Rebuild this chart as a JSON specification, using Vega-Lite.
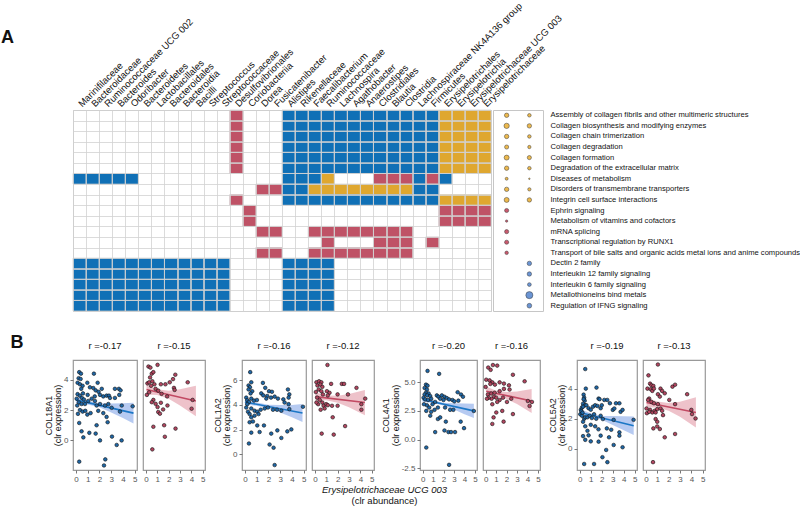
{
"$schema": "https://vega.github.io/schema/vega-lite/v6.json",
"padding": 0,
"spacing": 21,
"config": {
 "font": "Liberation Sans",
 "title": {"fontSize": 9.5, "fontWeight": "normal", "offset": 10, "frame": "group", "color": "#111"},
 "axis": {"domain": false, "grid": false, "labelFontSize": 8, "labelColor": "#555", "tickColor": "#777", "tickSize": 3, "labelPadding": 2, "titleFontSize": 9, "titleFontWeight": "normal", "titleColor": "#111", "titlePadding": 1, "titleLineHeight": 9.5},
 "concat": {"spacing": 4}
},
"datasets": {
 "taxa": [
  {"i":1,"taxon":"Marinifilaceae"},{"i":2,"taxon":"Bacteroidaceae"},{"i":3,"taxon":"Ruminococcaceae UCG 002"},{"i":4,"taxon":"Bacteroides"},{"i":5,"taxon":"Odoribacter"},{"i":6,"taxon":"Bacteroidetes"},{"i":7,"taxon":"Lactobacillales"},{"i":8,"taxon":"Bacteroidales"},{"i":9,"taxon":"Bacteroidia"},{"i":10,"taxon":"Bacilli"},{"i":11,"taxon":"Streptococcus"},{"i":12,"taxon":"Streptococcaceae"},{"i":13,"taxon":"Desulfovibrionales"},{"i":14,"taxon":"Coriobacteriia"},{"i":15,"taxon":"Dorea"},{"i":16,"taxon":"Fusicatenibacter"},{"i":17,"taxon":"Alistipes"},{"i":18,"taxon":"Rikenellaceae"},{"i":19,"taxon":"Faecalibacterium"},{"i":20,"taxon":"Ruminococcaceae"},{"i":21,"taxon":"Lachnospira"},{"i":22,"taxon":"Agathobacter"},{"i":23,"taxon":"Anaerostipes"},{"i":24,"taxon":"Clostridiales"},{"i":25,"taxon":"Blautia"},{"i":26,"taxon":"Clostridia"},{"i":27,"taxon":"Lachnospiraceae NK4A136 group"},{"i":28,"taxon":"Firmicutes"},{"i":29,"taxon":"Erysipelotrichales"},{"i":30,"taxon":"Erysipelotrichia"},{"i":31,"taxon":"Erysipelotrichaceae UCG 003"},{"i":32,"taxon":"Erysipelotrichaceae"}
 ],
 "paths": [
  {"j":1,"pathway":"Assembly of collagen fibrils and other multimeric structures"},{"j":2,"pathway":"Collagen biosynthesis and modifying enzymes"},{"j":3,"pathway":"Collagen chain trimerization"},{"j":4,"pathway":"Collagen degradation"},{"j":5,"pathway":"Collagen formation"},{"j":6,"pathway":"Degradation of the extracellular matrix"},{"j":7,"pathway":"Diseases of metabolism"},{"j":8,"pathway":"Disorders of transmembrane transporters"},{"j":9,"pathway":"Integrin cell surface interactions"},{"j":10,"pathway":"Ephrin signaling"},{"j":11,"pathway":"Metabolism of vitamins and cofactors"},{"j":12,"pathway":"mRNA splicing"},{"j":13,"pathway":"Transcriptional regulation by RUNX1"},{"j":14,"pathway":"Transport of bile salts and organic acids metal ions and anime compounds"},{"j":15,"pathway":"Dectin 2 family"},{"j":16,"pathway":"Interleukin 12 family signaling"},{"j":17,"pathway":"Interleukin 6 family signaling"},{"j":18,"pathway":"Metallothioneins bind metals"},{"j":19,"pathway":"Regulation of IFNG signaling"}
 ],
 "cells": [
  {"i":13,"j":1,"c":"R"},{"i":17,"j":1,"c":"B"},{"i":18,"j":1,"c":"B"},{"i":19,"j":1,"c":"B"},{"i":20,"j":1,"c":"B"},{"i":21,"j":1,"c":"B"},{"i":22,"j":1,"c":"B"},{"i":23,"j":1,"c":"B"},{"i":24,"j":1,"c":"B"},{"i":25,"j":1,"c":"B"},{"i":26,"j":1,"c":"B"},{"i":27,"j":1,"c":"B"},{"i":28,"j":1,"c":"B"},{"i":29,"j":1,"c":"Y"},{"i":30,"j":1,"c":"Y"},{"i":31,"j":1,"c":"Y"},{"i":32,"j":1,"c":"Y"},
  {"i":13,"j":2,"c":"R"},{"i":17,"j":2,"c":"B"},{"i":18,"j":2,"c":"B"},{"i":19,"j":2,"c":"B"},{"i":20,"j":2,"c":"B"},{"i":21,"j":2,"c":"B"},{"i":22,"j":2,"c":"B"},{"i":23,"j":2,"c":"B"},{"i":24,"j":2,"c":"B"},{"i":25,"j":2,"c":"B"},{"i":26,"j":2,"c":"B"},{"i":27,"j":2,"c":"B"},{"i":28,"j":2,"c":"B"},{"i":29,"j":2,"c":"Y"},{"i":30,"j":2,"c":"Y"},{"i":31,"j":2,"c":"Y"},{"i":32,"j":2,"c":"Y"},
  {"i":13,"j":3,"c":"R"},{"i":17,"j":3,"c":"B"},{"i":18,"j":3,"c":"B"},{"i":19,"j":3,"c":"B"},{"i":20,"j":3,"c":"B"},{"i":21,"j":3,"c":"B"},{"i":22,"j":3,"c":"B"},{"i":23,"j":3,"c":"B"},{"i":24,"j":3,"c":"B"},{"i":25,"j":3,"c":"B"},{"i":26,"j":3,"c":"B"},{"i":27,"j":3,"c":"B"},{"i":28,"j":3,"c":"B"},{"i":29,"j":3,"c":"Y"},{"i":30,"j":3,"c":"Y"},{"i":31,"j":3,"c":"Y"},{"i":32,"j":3,"c":"Y"},
  {"i":13,"j":4,"c":"R"},{"i":17,"j":4,"c":"B"},{"i":18,"j":4,"c":"B"},{"i":19,"j":4,"c":"B"},{"i":20,"j":4,"c":"B"},{"i":21,"j":4,"c":"B"},{"i":22,"j":4,"c":"B"},{"i":23,"j":4,"c":"B"},{"i":24,"j":4,"c":"B"},{"i":25,"j":4,"c":"B"},{"i":26,"j":4,"c":"B"},{"i":27,"j":4,"c":"B"},{"i":28,"j":4,"c":"B"},{"i":29,"j":4,"c":"Y"},{"i":30,"j":4,"c":"Y"},{"i":31,"j":4,"c":"Y"},{"i":32,"j":4,"c":"Y"},
  {"i":13,"j":5,"c":"R"},{"i":17,"j":5,"c":"B"},{"i":18,"j":5,"c":"B"},{"i":19,"j":5,"c":"B"},{"i":20,"j":5,"c":"B"},{"i":21,"j":5,"c":"B"},{"i":22,"j":5,"c":"B"},{"i":23,"j":5,"c":"B"},{"i":24,"j":5,"c":"B"},{"i":25,"j":5,"c":"B"},{"i":26,"j":5,"c":"B"},{"i":27,"j":5,"c":"B"},{"i":28,"j":5,"c":"B"},{"i":29,"j":5,"c":"Y"},{"i":30,"j":5,"c":"Y"},{"i":31,"j":5,"c":"Y"},{"i":32,"j":5,"c":"Y"},
  {"i":13,"j":6,"c":"R"},{"i":17,"j":6,"c":"B"},{"i":18,"j":6,"c":"B"},{"i":19,"j":6,"c":"B"},{"i":20,"j":6,"c":"B"},{"i":21,"j":6,"c":"B"},{"i":22,"j":6,"c":"B"},{"i":23,"j":6,"c":"B"},{"i":24,"j":6,"c":"B"},{"i":25,"j":6,"c":"B"},{"i":26,"j":6,"c":"B"},{"i":27,"j":6,"c":"B"},{"i":28,"j":6,"c":"B"},{"i":29,"j":6,"c":"Y"},{"i":30,"j":6,"c":"Y"},{"i":31,"j":6,"c":"Y"},{"i":32,"j":6,"c":"Y"},
  {"i":1,"j":7,"c":"B"},{"i":2,"j":7,"c":"B"},{"i":3,"j":7,"c":"B"},{"i":4,"j":7,"c":"B"},{"i":5,"j":7,"c":"B"},{"i":17,"j":7,"c":"B"},{"i":18,"j":7,"c":"B"},{"i":19,"j":7,"c":"B"},{"i":20,"j":7,"c":"Y"},{"i":24,"j":7,"c":"R"},{"i":25,"j":7,"c":"R"},{"i":26,"j":7,"c":"R"},{"i":27,"j":7,"c":"B"},{"i":28,"j":7,"c":"R"},{"i":29,"j":7,"c":"B"},
  {"i":15,"j":8,"c":"R"},{"i":16,"j":8,"c":"R"},{"i":17,"j":8,"c":"B"},{"i":18,"j":8,"c":"B"},{"i":19,"j":8,"c":"Y"},{"i":20,"j":8,"c":"Y"},{"i":21,"j":8,"c":"Y"},{"i":22,"j":8,"c":"Y"},{"i":23,"j":8,"c":"Y"},{"i":24,"j":8,"c":"Y"},{"i":25,"j":8,"c":"Y"},{"i":26,"j":8,"c":"Y"},{"i":27,"j":8,"c":"B"},{"i":28,"j":8,"c":"B"},
  {"i":13,"j":9,"c":"R"},{"i":17,"j":9,"c":"B"},{"i":18,"j":9,"c":"B"},{"i":19,"j":9,"c":"B"},{"i":20,"j":9,"c":"B"},{"i":21,"j":9,"c":"B"},{"i":22,"j":9,"c":"B"},{"i":23,"j":9,"c":"B"},{"i":24,"j":9,"c":"B"},{"i":25,"j":9,"c":"B"},{"i":26,"j":9,"c":"B"},{"i":27,"j":9,"c":"B"},{"i":28,"j":9,"c":"B"},{"i":29,"j":9,"c":"Y"},{"i":30,"j":9,"c":"Y"},{"i":31,"j":9,"c":"Y"},{"i":32,"j":9,"c":"Y"},
  {"i":14,"j":10,"c":"R"},{"i":29,"j":10,"c":"R"},{"i":30,"j":10,"c":"R"},{"i":31,"j":10,"c":"R"},{"i":32,"j":10,"c":"R"},
  {"i":14,"j":11,"c":"R"},{"i":29,"j":11,"c":"R"},{"i":30,"j":11,"c":"R"},{"i":31,"j":11,"c":"R"},{"i":32,"j":11,"c":"R"},
  {"i":15,"j":12,"c":"R"},{"i":16,"j":12,"c":"R"},{"i":19,"j":12,"c":"R"},{"i":20,"j":12,"c":"R"},{"i":21,"j":12,"c":"R"},{"i":22,"j":12,"c":"R"},{"i":23,"j":12,"c":"R"},{"i":24,"j":12,"c":"R"},{"i":25,"j":12,"c":"R"},{"i":26,"j":12,"c":"R"},
  {"i":20,"j":13,"c":"R"},{"i":24,"j":13,"c":"R"},{"i":25,"j":13,"c":"R"},{"i":26,"j":13,"c":"R"},{"i":28,"j":13,"c":"R"},
  {"i":15,"j":14,"c":"R"},{"i":16,"j":14,"c":"R"},{"i":19,"j":14,"c":"R"},{"i":20,"j":14,"c":"R"},{"i":21,"j":14,"c":"R"},{"i":22,"j":14,"c":"R"},{"i":23,"j":14,"c":"R"},{"i":24,"j":14,"c":"R"},{"i":25,"j":14,"c":"R"},{"i":26,"j":14,"c":"R"},
  {"i":1,"j":15,"c":"B"},{"i":2,"j":15,"c":"B"},{"i":3,"j":15,"c":"B"},{"i":4,"j":15,"c":"B"},{"i":5,"j":15,"c":"B"},{"i":6,"j":15,"c":"B"},{"i":7,"j":15,"c":"B"},{"i":8,"j":15,"c":"B"},{"i":9,"j":15,"c":"B"},{"i":10,"j":15,"c":"B"},{"i":11,"j":15,"c":"B"},{"i":12,"j":15,"c":"B"},{"i":17,"j":15,"c":"B"},{"i":18,"j":15,"c":"B"},{"i":19,"j":15,"c":"B"},{"i":20,"j":15,"c":"B"},
  {"i":1,"j":16,"c":"B"},{"i":2,"j":16,"c":"B"},{"i":3,"j":16,"c":"B"},{"i":4,"j":16,"c":"B"},{"i":5,"j":16,"c":"B"},{"i":6,"j":16,"c":"B"},{"i":7,"j":16,"c":"B"},{"i":8,"j":16,"c":"B"},{"i":9,"j":16,"c":"B"},{"i":10,"j":16,"c":"B"},{"i":11,"j":16,"c":"B"},{"i":12,"j":16,"c":"B"},{"i":17,"j":16,"c":"B"},{"i":18,"j":16,"c":"B"},{"i":19,"j":16,"c":"B"},{"i":20,"j":16,"c":"B"},
  {"i":1,"j":17,"c":"B"},{"i":2,"j":17,"c":"B"},{"i":3,"j":17,"c":"B"},{"i":4,"j":17,"c":"B"},{"i":5,"j":17,"c":"B"},{"i":6,"j":17,"c":"B"},{"i":7,"j":17,"c":"B"},{"i":8,"j":17,"c":"B"},{"i":9,"j":17,"c":"B"},{"i":10,"j":17,"c":"B"},{"i":11,"j":17,"c":"B"},{"i":12,"j":17,"c":"B"},{"i":17,"j":17,"c":"B"},{"i":18,"j":17,"c":"B"},{"i":19,"j":17,"c":"B"},{"i":20,"j":17,"c":"B"},
  {"i":1,"j":18,"c":"B"},{"i":2,"j":18,"c":"B"},{"i":3,"j":18,"c":"B"},{"i":4,"j":18,"c":"B"},{"i":5,"j":18,"c":"B"},{"i":6,"j":18,"c":"B"},{"i":7,"j":18,"c":"B"},{"i":8,"j":18,"c":"B"},{"i":9,"j":18,"c":"B"},{"i":10,"j":18,"c":"B"},{"i":11,"j":18,"c":"B"},{"i":12,"j":18,"c":"B"},{"i":17,"j":18,"c":"B"},{"i":18,"j":18,"c":"B"},{"i":19,"j":18,"c":"B"},{"i":20,"j":18,"c":"B"},
  {"i":1,"j":19,"c":"B"},{"i":2,"j":19,"c":"B"},{"i":3,"j":19,"c":"B"},{"i":4,"j":19,"c":"B"},{"i":5,"j":19,"c":"B"},{"i":6,"j":19,"c":"B"},{"i":7,"j":19,"c":"B"},{"i":8,"j":19,"c":"B"},{"i":9,"j":19,"c":"B"},{"i":10,"j":19,"c":"B"},{"i":11,"j":19,"c":"B"},{"i":12,"j":19,"c":"B"},{"i":17,"j":19,"c":"B"},{"i":18,"j":19,"c":"B"},{"i":19,"j":19,"c":"B"},{"i":20,"j":19,"c":"B"}
 ],
 "dots": [
  {"j":1,"k":1,"v":25,"grp":"ECM"},{"j":2,"k":1,"v":36,"grp":"ECM"},{"j":3,"k":1,"v":25,"grp":"ECM"},{"j":4,"k":1,"v":22,"grp":"ECM"},{"j":5,"k":1,"v":32,"grp":"ECM"},{"j":6,"k":1,"v":25,"grp":"ECM"},{"j":7,"k":1,"v":11,"grp":"ECM"},{"j":8,"k":1,"v":25,"grp":"ECM"},{"j":9,"k":1,"v":32,"grp":"ECM"},{"j":10,"k":1,"v":22,"grp":"other"},{"j":11,"k":1,"v":7,"grp":"other"},{"j":12,"k":1,"v":22,"grp":"other"},{"j":13,"k":1,"v":22,"grp":"other"},{"j":14,"k":1,"v":16,"grp":"other"},
  {"j":1,"k":2,"v":16,"grp":"ECM"},{"j":2,"k":2,"v":25,"grp":"ECM"},{"j":3,"k":2,"v":16,"grp":"ECM"},{"j":4,"k":2,"v":14,"grp":"ECM"},{"j":5,"k":2,"v":22,"grp":"ECM"},{"j":6,"k":2,"v":16,"grp":"ECM"},{"j":7,"k":2,"v":3,"grp":"ECM"},{"j":8,"k":2,"v":14,"grp":"ECM"},{"j":9,"k":2,"v":25,"grp":"ECM"},{"j":15,"k":2,"v":25,"grp":"immune"},{"j":16,"k":2,"v":25,"grp":"immune"},{"j":17,"k":2,"v":18,"grp":"immune"},{"j":18,"k":2,"v":64,"grp":"immune"},{"j":19,"k":2,"v":28,"grp":"immune"}
 ],
 "fits": [
  {"g":"COL18A1","s":"b","x":0,"y":2.67},{"g":"COL18A1","s":"b","x":4.9,"y":1.8},{"g":"COL18A1","s":"r","x":0.06,"y":3.35},{"g":"COL18A1","s":"r","x":4.4,"y":2.6},
  {"g":"COL1A2","s":"b","x":0,"y":4.23},{"g":"COL1A2","s":"b","x":4.9,"y":3.33},{"g":"COL1A2","s":"r","x":0.06,"y":4.66},{"g":"COL1A2","s":"r","x":4.4,"y":4.18},
  {"g":"COL4A1","s":"b","x":0,"y":3.51},{"g":"COL4A1","s":"b","x":4.9,"y":2.51},{"g":"COL4A1","s":"r","x":0.06,"y":4.23},{"g":"COL4A1","s":"r","x":4.4,"y":3.37},
  {"g":"COL5A2","s":"b","x":0,"y":2.42},{"g":"COL5A2","s":"b","x":4.9,"y":1.54},{"g":"COL5A2","s":"r","x":0.06,"y":3.08},{"g":"COL5A2","s":"r","x":4.4,"y":2.42}
 ],
 "bands": [
  {"g":"COL18A1","s":"b","x":0,"y":2.45,"y2":2.89},{"g":"COL18A1","s":"b","x":1,"y":2.36,"y2":2.62},{"g":"COL18A1","s":"b","x":2,"y":2.18,"y2":2.45},{"g":"COL18A1","s":"b","x":3,"y":1.84,"y2":2.44},{"g":"COL18A1","s":"b","x":4,"y":1.47,"y2":2.45},{"g":"COL18A1","s":"b","x":4.9,"y":1.12,"y2":2.48},
  {"g":"COL18A1","s":"r","x":0.06,"y":3.02,"y2":3.68},{"g":"COL18A1","s":"r","x":1,"y":3.0,"y2":3.38},{"g":"COL18A1","s":"r","x":2,"y":2.74,"y2":3.28},{"g":"COL18A1","s":"r","x":3,"y":2.3,"y2":3.38},{"g":"COL18A1","s":"r","x":4.4,"y":1.6,"y2":3.6},
  {"g":"COL1A2","s":"b","x":0,"y":4.02,"y2":4.44},{"g":"COL1A2","s":"b","x":1,"y":3.92,"y2":4.18},{"g":"COL1A2","s":"b","x":2,"y":3.72,"y2":4.0},{"g":"COL1A2","s":"b","x":3,"y":3.38,"y2":3.98},{"g":"COL1A2","s":"b","x":4,"y":3.0,"y2":3.98},{"g":"COL1A2","s":"b","x":4.9,"y":2.6,"y2":4.06},
  {"g":"COL1A2","s":"r","x":0.06,"y":4.3,"y2":5.02},{"g":"COL1A2","s":"r","x":1,"y":4.36,"y2":4.76},{"g":"COL1A2","s":"r","x":2,"y":4.17,"y2":4.73},{"g":"COL1A2","s":"r","x":3,"y":3.8,"y2":4.88},{"g":"COL1A2","s":"r","x":4.4,"y":3.16,"y2":5.2},
  {"g":"COL4A1","s":"b","x":0,"y":3.3,"y2":3.72},{"g":"COL4A1","s":"b","x":1,"y":3.19,"y2":3.43},{"g":"COL4A1","s":"b","x":2,"y":2.97,"y2":3.23},{"g":"COL4A1","s":"b","x":3,"y":2.62,"y2":3.18},{"g":"COL4A1","s":"b","x":4,"y":2.22,"y2":3.16},{"g":"COL4A1","s":"b","x":4.9,"y":1.88,"y2":3.14},
  {"g":"COL4A1","s":"r","x":0.06,"y":3.82,"y2":4.64},{"g":"COL4A1","s":"r","x":1,"y":3.82,"y2":4.26},{"g":"COL4A1","s":"r","x":2,"y":3.55,"y2":4.15},{"g":"COL4A1","s":"r","x":3,"y":3.1,"y2":4.2},{"g":"COL4A1","s":"r","x":4.4,"y":2.32,"y2":4.42},
  {"g":"COL5A2","s":"b","x":0,"y":2.2,"y2":2.64},{"g":"COL5A2","s":"b","x":1,"y":2.12,"y2":2.36},{"g":"COL5A2","s":"b","x":2,"y":1.93,"y2":2.19},{"g":"COL5A2","s":"b","x":3,"y":1.58,"y2":2.18},{"g":"COL5A2","s":"b","x":4,"y":1.24,"y2":2.16},{"g":"COL5A2","s":"b","x":4.9,"y":0.93,"y2":2.15},
  {"g":"COL5A2","s":"r","x":0.06,"y":2.75,"y2":3.41},{"g":"COL5A2","s":"r","x":1,"y":2.74,"y2":3.14},{"g":"COL5A2","s":"r","x":2,"y":2.54,"y2":3.04},{"g":"COL5A2","s":"r","x":3,"y":2.13,"y2":3.13},{"g":"COL5A2","s":"r","x":4.4,"y":1.42,"y2":3.42}
 ],
 "pts": [
  {"g":"COL18A1","s":"b","x":0.28,"y":4.5},{"g":"COL18A1","s":"b","x":0.43,"y":4.4},{"g":"COL18A1","s":"b","x":0.23,"y":4.1},{"g":"COL18A1","s":"b","x":0.4,"y":4.05},{"g":"COL18A1","s":"b","x":0.14,"y":3.8},{"g":"COL18A1","s":"b","x":0.34,"y":3.7},{"g":"COL18A1","s":"b","x":0.57,"y":3.6},{"g":"COL18A1","s":"b","x":0.45,"y":3.4},{"g":"COL18A1","s":"b","x":1.53,"y":4.4},{"g":"COL18A1","s":"b","x":0.97,"y":3.8},{"g":"COL18A1","s":"b","x":1.85,"y":3.8},{"g":"COL18A1","s":"b","x":1.19,"y":3.5},{"g":"COL18A1","s":"b","x":1.48,"y":3.45},{"g":"COL18A1","s":"b","x":1.68,"y":3.3},{"g":"COL18A1","s":"b","x":1.93,"y":3.2},{"g":"COL18A1","s":"b","x":2.05,"y":3.0},{"g":"COL18A1","s":"b","x":2.33,"y":2.9},{"g":"COL18A1","s":"b","x":2.61,"y":2.95},{"g":"COL18A1","s":"b","x":2.81,"y":2.95},{"g":"COL18A1","s":"b","x":3.32,"y":3.4},{"g":"COL18A1","s":"b","x":3.66,"y":3.4},{"g":"COL18A1","s":"b","x":3.8,"y":3.3},{"g":"COL18A1","s":"b","x":3.69,"y":3.0},{"g":"COL18A1","s":"b","x":3.32,"y":2.8},{"g":"COL18A1","s":"b","x":2.9,"y":2.8},{"g":"COL18A1","s":"b","x":0.14,"y":3.05},{"g":"COL18A1","s":"b","x":0.34,"y":2.95},{"g":"COL18A1","s":"b","x":0.51,"y":2.8},{"g":"COL18A1","s":"b","x":0.68,"y":2.7},{"g":"COL18A1","s":"b","x":0.06,"y":2.75},{"g":"COL18A1","s":"b","x":0.26,"y":2.5},{"g":"COL18A1","s":"b","x":0.11,"y":2.3},{"g":"COL18A1","s":"b","x":0.48,"y":2.4},{"g":"COL18A1","s":"b","x":0.77,"y":2.4},{"g":"COL18A1","s":"b","x":1.05,"y":2.6},{"g":"COL18A1","s":"b","x":1.34,"y":2.75},{"g":"COL18A1","s":"b","x":1.62,"y":2.6},{"g":"COL18A1","s":"b","x":1.76,"y":2.3},{"g":"COL18A1","s":"b","x":2.05,"y":2.4},{"g":"COL18A1","s":"b","x":2.47,"y":2.3},{"g":"COL18A1","s":"b","x":2.76,"y":2.4},{"g":"COL18A1","s":"b","x":3.75,"y":1.9},{"g":"COL18A1","s":"b","x":4.83,"y":2.25},{"g":"COL18A1","s":"b","x":3.04,"y":2.15},{"g":"COL18A1","s":"b","x":0.34,"y":2.0},{"g":"COL18A1","s":"b","x":0.57,"y":1.9},{"g":"COL18A1","s":"b","x":0.8,"y":1.95},{"g":"COL18A1","s":"b","x":0.97,"y":1.7},{"g":"COL18A1","s":"b","x":0.17,"y":1.75},{"g":"COL18A1","s":"b","x":1.25,"y":1.8},{"g":"COL18A1","s":"b","x":1.9,"y":1.95},{"g":"COL18A1","s":"b","x":2.33,"y":1.8},{"g":"COL18A1","s":"b","x":2.61,"y":1.55},{"g":"COL18A1","s":"b","x":1.76,"y":1.0},{"g":"COL18A1","s":"b","x":0.28,"y":1.15},{"g":"COL18A1","s":"b","x":0.48,"y":0.6},{"g":"COL18A1","s":"b","x":0.63,"y":0.2},{"g":"COL18A1","s":"b","x":1.14,"y":0.5},{"g":"COL18A1","s":"b","x":1.68,"y":0.45},{"g":"COL18A1","s":"b","x":2.05,"y":0.0},{"g":"COL18A1","s":"b","x":2.7,"y":1.2},{"g":"COL18A1","s":"b","x":3.07,"y":0.25},{"g":"COL18A1","s":"b","x":3.47,"y":-0.3},{"g":"COL18A1","s":"b","x":3.89,"y":0.0},{"g":"COL18A1","s":"b","x":0.28,"y":-1.4},{"g":"COL18A1","s":"b","x":2.5,"y":-1.25},{"g":"COL18A1","s":"b","x":2.39,"y":-1.65},{"g":"COL18A1","s":"b","x":3.9,"y":2.3},{"g":"COL18A1","s":"b","x":1.0,"y":3.0},{"g":"COL18A1","s":"b","x":0.6,"y":3.1},{"g":"COL18A1","s":"b","x":1.6,"y":2.9},{"g":"COL18A1","s":"b","x":2.2,"y":3.4},
  {"g":"COL18A1","s":"r","x":0.23,"y":4.87},{"g":"COL18A1","s":"r","x":0.4,"y":4.8},{"g":"COL18A1","s":"r","x":1.03,"y":4.98},{"g":"COL18A1","s":"r","x":0.52,"y":4.4},{"g":"COL18A1","s":"r","x":0.66,"y":4.5},{"g":"COL18A1","s":"r","x":0.37,"y":4.15},{"g":"COL18A1","s":"r","x":0.14,"y":3.76},{"g":"COL18A1","s":"r","x":0.29,"y":3.83},{"g":"COL18A1","s":"r","x":0.57,"y":3.9},{"g":"COL18A1","s":"r","x":0.75,"y":3.7},{"g":"COL18A1","s":"r","x":0.46,"y":3.6},{"g":"COL18A1","s":"r","x":0.09,"y":3.0},{"g":"COL18A1","s":"r","x":0.29,"y":3.17},{"g":"COL18A1","s":"r","x":0.86,"y":3.4},{"g":"COL18A1","s":"r","x":1.32,"y":3.7},{"g":"COL18A1","s":"r","x":1.72,"y":3.7},{"g":"COL18A1","s":"r","x":2.1,"y":3.83},{"g":"COL18A1","s":"r","x":2.39,"y":4.04},{"g":"COL18A1","s":"r","x":2.59,"y":4.33},{"g":"COL18A1","s":"r","x":2.47,"y":3.46},{"g":"COL18A1","s":"r","x":2.53,"y":3.33},{"g":"COL18A1","s":"r","x":3.68,"y":3.83},{"g":"COL18A1","s":"r","x":1.09,"y":3.28},{"g":"COL18A1","s":"r","x":1.38,"y":3.07},{"g":"COL18A1","s":"r","x":1.87,"y":2.9},{"g":"COL18A1","s":"r","x":0.66,"y":2.67},{"g":"COL18A1","s":"r","x":0.52,"y":2.52},{"g":"COL18A1","s":"r","x":0.86,"y":2.41},{"g":"COL18A1","s":"r","x":1.32,"y":2.48},{"g":"COL18A1","s":"r","x":1.03,"y":2.2},{"g":"COL18A1","s":"r","x":1.09,"y":1.87},{"g":"COL18A1","s":"r","x":1.24,"y":1.76},{"g":"COL18A1","s":"r","x":1.52,"y":2.04},{"g":"COL18A1","s":"r","x":1.9,"y":2.3},{"g":"COL18A1","s":"r","x":4.02,"y":2.09},{"g":"COL18A1","s":"r","x":4.11,"y":2.67},{"g":"COL18A1","s":"r","x":0.66,"y":0.9},{"g":"COL18A1","s":"r","x":1.61,"y":1.0},{"g":"COL18A1","s":"r","x":1.67,"y":0.24},{"g":"COL18A1","s":"r","x":2.61,"y":0.78},{"g":"COL18A1","s":"r","x":0.57,"y":-0.59},
  {"g":"COL1A2","s":"b","x":0.45,"y":6.64},{"g":"COL1A2","s":"b","x":0.54,"y":5.82},{"g":"COL1A2","s":"b","x":0.31,"y":5.56},{"g":"COL1A2","s":"b","x":0.43,"y":5.42},{"g":"COL1A2","s":"b","x":0.31,"y":5.24},{"g":"COL1A2","s":"b","x":0.62,"y":5.1},{"g":"COL1A2","s":"b","x":0.48,"y":4.92},{"g":"COL1A2","s":"b","x":1.53,"y":5.77},{"g":"COL1A2","s":"b","x":1.73,"y":5.37},{"g":"COL1A2","s":"b","x":2.05,"y":5.1},{"g":"COL1A2","s":"b","x":2.3,"y":5.05},{"g":"COL1A2","s":"b","x":1.39,"y":4.92},{"g":"COL1A2","s":"b","x":1.56,"y":4.76},{"g":"COL1A2","s":"b","x":1.9,"y":4.71},{"g":"COL1A2","s":"b","x":1.82,"y":4.5},{"g":"COL1A2","s":"b","x":2.22,"y":4.58},{"g":"COL1A2","s":"b","x":2.53,"y":4.66},{"g":"COL1A2","s":"b","x":2.81,"y":4.5},{"g":"COL1A2","s":"b","x":3.27,"y":4.44},{"g":"COL1A2","s":"b","x":3.66,"y":5.24},{"g":"COL1A2","s":"b","x":3.78,"y":4.84},{"g":"COL1A2","s":"b","x":3.72,"y":4.58},{"g":"COL1A2","s":"b","x":3.38,"y":4.18},{"g":"COL1A2","s":"b","x":3.72,"y":4.05},{"g":"COL1A2","s":"b","x":3.78,"y":3.65},{"g":"COL1A2","s":"b","x":4.94,"y":3.84},{"g":"COL1A2","s":"b","x":0.11,"y":4.58},{"g":"COL1A2","s":"b","x":0.2,"y":4.37},{"g":"COL1A2","s":"b","x":0.34,"y":4.23},{"g":"COL1A2","s":"b","x":0.54,"y":4.5},{"g":"COL1A2","s":"b","x":0.77,"y":4.34},{"g":"COL1A2","s":"b","x":1.02,"y":4.39},{"g":"COL1A2","s":"b","x":0.2,"y":4.05},{"g":"COL1A2","s":"b","x":0.11,"y":3.78},{"g":"COL1A2","s":"b","x":0.54,"y":3.7},{"g":"COL1A2","s":"b","x":0.82,"y":3.52},{"g":"COL1A2","s":"b","x":0.26,"y":3.44},{"g":"COL1A2","s":"b","x":0.4,"y":3.25},{"g":"COL1A2","s":"b","x":1.05,"y":3.44},{"g":"COL1A2","s":"b","x":1.34,"y":3.6},{"g":"COL1A2","s":"b","x":1.16,"y":3.25},{"g":"COL1A2","s":"b","x":1.68,"y":3.7},{"g":"COL1A2","s":"b","x":1.96,"y":3.78},{"g":"COL1A2","s":"b","x":2.39,"y":3.6},{"g":"COL1A2","s":"b","x":2.73,"y":3.6},{"g":"COL1A2","s":"b","x":3.1,"y":3.52},{"g":"COL1A2","s":"b","x":0.82,"y":3.12},{"g":"COL1A2","s":"b","x":0.54,"y":2.99},{"g":"COL1A2","s":"b","x":0.4,"y":2.59},{"g":"COL1A2","s":"b","x":0.68,"y":2.65},{"g":"COL1A2","s":"b","x":1.05,"y":2.33},{"g":"COL1A2","s":"b","x":0.54,"y":1.75},{"g":"COL1A2","s":"b","x":1.25,"y":1.8},{"g":"COL1A2","s":"b","x":1.62,"y":2.33},{"g":"COL1A2","s":"b","x":2.24,"y":1.67},{"g":"COL1A2","s":"b","x":2.76,"y":1.93},{"g":"COL1A2","s":"b","x":3.1,"y":1.32},{"g":"COL1A2","s":"b","x":3.61,"y":1.85},{"g":"COL1A2","s":"b","x":3.95,"y":2.01},{"g":"COL1A2","s":"b","x":0.34,"y":0.87},{"g":"COL1A2","s":"b","x":2.1,"y":0.79},{"g":"COL1A2","s":"b","x":2.44,"y":0.53},{"g":"COL1A2","s":"b","x":2.53,"y":-0.87},
  {"g":"COL1A2","s":"r","x":1.11,"y":7.22},{"g":"COL1A2","s":"r","x":0.14,"y":5.82},{"g":"COL1A2","s":"r","x":0.37,"y":5.9},{"g":"COL1A2","s":"r","x":0.57,"y":5.82},{"g":"COL1A2","s":"r","x":0.23,"y":5.56},{"g":"COL1A2","s":"r","x":0.49,"y":5.63},{"g":"COL1A2","s":"r","x":0.66,"y":5.45},{"g":"COL1A2","s":"r","x":1.43,"y":5.69},{"g":"COL1A2","s":"r","x":2.37,"y":5.69},{"g":"COL1A2","s":"r","x":2.57,"y":5.69},{"g":"COL1A2","s":"r","x":3.66,"y":5.37},{"g":"COL1A2","s":"r","x":0.34,"y":5.24},{"g":"COL1A2","s":"r","x":0.57,"y":5.1},{"g":"COL1A2","s":"r","x":1.06,"y":5.1},{"g":"COL1A2","s":"r","x":1.29,"y":4.97},{"g":"COL1A2","s":"r","x":1.14,"y":4.76},{"g":"COL1A2","s":"r","x":0.71,"y":4.84},{"g":"COL1A2","s":"r","x":0.09,"y":5.03},{"g":"COL1A2","s":"r","x":0.2,"y":4.58},{"g":"COL1A2","s":"r","x":2.0,"y":4.84},{"g":"COL1A2","s":"r","x":2.91,"y":4.84},{"g":"COL1A2","s":"r","x":0.43,"y":4.39},{"g":"COL1A2","s":"r","x":0.66,"y":4.18},{"g":"COL1A2","s":"r","x":0.77,"y":3.92},{"g":"COL1A2","s":"r","x":1.0,"y":4.05},{"g":"COL1A2","s":"r","x":0.86,"y":3.7},{"g":"COL1A2","s":"r","x":1.14,"y":3.97},{"g":"COL1A2","s":"r","x":1.51,"y":3.92},{"g":"COL1A2","s":"r","x":2.0,"y":3.92},{"g":"COL1A2","s":"r","x":0.29,"y":4.05},{"g":"COL1A2","s":"r","x":0.14,"y":4.18},{"g":"COL1A2","s":"r","x":0.51,"y":3.6},{"g":"COL1A2","s":"r","x":1.57,"y":2.99},{"g":"COL1A2","s":"r","x":4.09,"y":4.05},{"g":"COL1A2","s":"r","x":4.09,"y":3.6},{"g":"COL1A2","s":"r","x":4.43,"y":4.5},{"g":"COL1A2","s":"r","x":0.6,"y":1.67},{"g":"COL1A2","s":"r","x":1.66,"y":1.59},{"g":"COL1A2","s":"r","x":2.66,"y":2.28},
  {"g":"COL4A1","s":"b","x":0.47,"y":6.0},{"g":"COL4A1","s":"b","x":1.58,"y":5.74},{"g":"COL4A1","s":"b","x":0.32,"y":4.8},{"g":"COL4A1","s":"b","x":0.47,"y":4.71},{"g":"COL4A1","s":"b","x":0.19,"y":4.51},{"g":"COL4A1","s":"b","x":0.41,"y":4.37},{"g":"COL4A1","s":"b","x":0.32,"y":4.09},{"g":"COL4A1","s":"b","x":0.57,"y":4.03},{"g":"COL4A1","s":"b","x":0.19,"y":3.94},{"g":"COL4A1","s":"b","x":0.44,"y":3.86},{"g":"COL4A1","s":"b","x":0.73,"y":3.8},{"g":"COL4A1","s":"b","x":0.09,"y":3.66},{"g":"COL4A1","s":"b","x":0.25,"y":3.51},{"g":"COL4A1","s":"b","x":0.51,"y":3.46},{"g":"COL4A1","s":"b","x":0.82,"y":3.57},{"g":"COL4A1","s":"b","x":1.36,"y":3.86},{"g":"COL4A1","s":"b","x":1.52,"y":3.74},{"g":"COL4A1","s":"b","x":1.84,"y":3.86},{"g":"COL4A1","s":"b","x":2.09,"y":3.74},{"g":"COL4A1","s":"b","x":2.31,"y":3.63},{"g":"COL4A1","s":"b","x":1.68,"y":3.57},{"g":"COL4A1","s":"b","x":2.0,"y":3.46},{"g":"COL4A1","s":"b","x":2.53,"y":3.51},{"g":"COL4A1","s":"b","x":2.85,"y":3.46},{"g":"COL4A1","s":"b","x":3.35,"y":4.14},{"g":"COL4A1","s":"b","x":3.67,"y":3.94},{"g":"COL4A1","s":"b","x":3.86,"y":3.74},{"g":"COL4A1","s":"b","x":3.04,"y":3.34},{"g":"COL4A1","s":"b","x":3.42,"y":3.4},{"g":"COL4A1","s":"b","x":1.2,"y":3.29},{"g":"COL4A1","s":"b","x":0.95,"y":3.09},{"g":"COL4A1","s":"b","x":0.41,"y":3.0},{"g":"COL4A1","s":"b","x":0.13,"y":3.09},{"g":"COL4A1","s":"b","x":0.63,"y":2.8},{"g":"COL4A1","s":"b","x":0.35,"y":2.51},{"g":"COL4A1","s":"b","x":0.82,"y":2.43},{"g":"COL4A1","s":"b","x":1.14,"y":2.6},{"g":"COL4A1","s":"b","x":1.46,"y":2.8},{"g":"COL4A1","s":"b","x":2.15,"y":2.8},{"g":"COL4A1","s":"b","x":2.63,"y":2.6},{"g":"COL4A1","s":"b","x":2.94,"y":2.6},{"g":"COL4A1","s":"b","x":0.73,"y":2.09},{"g":"COL4A1","s":"b","x":1.46,"y":1.8},{"g":"COL4A1","s":"b","x":1.68,"y":1.94},{"g":"COL4A1","s":"b","x":2.22,"y":1.57},{"g":"COL4A1","s":"b","x":3.64,"y":1.57},{"g":"COL4A1","s":"b","x":1.2,"y":0.66},{"g":"COL4A1","s":"b","x":2.09,"y":0.8},{"g":"COL4A1","s":"b","x":2.47,"y":0.66},{"g":"COL4A1","s":"b","x":2.72,"y":0.66},{"g":"COL4A1","s":"b","x":3.1,"y":0.66},{"g":"COL4A1","s":"b","x":3.96,"y":1.0},{"g":"COL4A1","s":"b","x":0.35,"y":-0.69},{"g":"COL4A1","s":"b","x":2.53,"y":-2.2},{"g":"COL4A1","s":"b","x":4.9,"y":2.5},
  {"g":"COL4A1","s":"r","x":0.25,"y":6.29},{"g":"COL4A1","s":"r","x":0.7,"y":6.51},{"g":"COL4A1","s":"r","x":1.11,"y":6.46},{"g":"COL4A1","s":"r","x":0.48,"y":6.09},{"g":"COL4A1","s":"r","x":0.06,"y":5.23},{"g":"COL4A1","s":"r","x":0.38,"y":5.17},{"g":"COL4A1","s":"r","x":0.64,"y":5.0},{"g":"COL4A1","s":"r","x":0.45,"y":4.86},{"g":"COL4A1","s":"r","x":0.89,"y":4.8},{"g":"COL4A1","s":"r","x":0.0,"y":4.6},{"g":"COL4A1","s":"r","x":1.34,"y":5.0},{"g":"COL4A1","s":"r","x":1.75,"y":4.89},{"g":"COL4A1","s":"r","x":2.23,"y":4.74},{"g":"COL4A1","s":"r","x":2.61,"y":5.66},{"g":"COL4A1","s":"r","x":3.73,"y":5.09},{"g":"COL4A1","s":"r","x":1.75,"y":4.43},{"g":"COL4A1","s":"r","x":2.29,"y":4.37},{"g":"COL4A1","s":"r","x":1.34,"y":4.23},{"g":"COL4A1","s":"r","x":0.22,"y":3.94},{"g":"COL4A1","s":"r","x":0.54,"y":4.03},{"g":"COL4A1","s":"r","x":0.86,"y":4.09},{"g":"COL4A1","s":"r","x":0.8,"y":3.74},{"g":"COL4A1","s":"r","x":1.02,"y":3.66},{"g":"COL4A1","s":"r","x":0.57,"y":3.57},{"g":"COL4A1","s":"r","x":0.29,"y":3.66},{"g":"COL4A1","s":"r","x":0.13,"y":3.57},{"g":"COL4A1","s":"r","x":1.34,"y":3.46},{"g":"COL4A1","s":"r","x":1.66,"y":3.66},{"g":"COL4A1","s":"r","x":2.04,"y":3.29},{"g":"COL4A1","s":"r","x":2.45,"y":3.57},{"g":"COL4A1","s":"r","x":0.64,"y":3.09},{"g":"COL4A1","s":"r","x":1.11,"y":3.29},{"g":"COL4A1","s":"r","x":4.04,"y":3.37},{"g":"COL4A1","s":"r","x":4.2,"y":2.94},{"g":"COL4A1","s":"r","x":4.43,"y":3.29},{"g":"COL4A1","s":"r","x":1.02,"y":2.37},{"g":"COL4A1","s":"r","x":1.59,"y":2.51},{"g":"COL4A1","s":"r","x":0.76,"y":1.94},{"g":"COL4A1","s":"r","x":2.61,"y":2.23},{"g":"COL4A1","s":"r","x":1.72,"y":1.57},{"g":"COL4A1","s":"r","x":0.64,"y":1.37},
  {"g":"COL5A2","s":"b","x":0.5,"y":5.3},{"g":"COL5A2","s":"b","x":0.35,"y":3.6},{"g":"COL5A2","s":"b","x":0.4,"y":3.4},{"g":"COL5A2","s":"b","x":0.45,"y":3.2},{"g":"COL5A2","s":"b","x":0.3,"y":3.0},{"g":"COL5A2","s":"b","x":0.55,"y":4.0},{"g":"COL5A2","s":"b","x":0.5,"y":2.9},{"g":"COL5A2","s":"b","x":1.52,"y":4.07},{"g":"COL5A2","s":"b","x":1.71,"y":3.34},{"g":"COL5A2","s":"b","x":1.8,"y":3.3},{"g":"COL5A2","s":"b","x":2.23,"y":3.25},{"g":"COL5A2","s":"b","x":2.5,"y":3.25},{"g":"COL5A2","s":"b","x":2.74,"y":3.03},{"g":"COL5A2","s":"b","x":3.0,"y":2.59},{"g":"COL5A2","s":"b","x":3.29,"y":3.03},{"g":"COL5A2","s":"b","x":3.6,"y":3.03},{"g":"COL5A2","s":"b","x":3.71,"y":2.46},{"g":"COL5A2","s":"b","x":3.89,"y":2.59},{"g":"COL5A2","s":"b","x":3.14,"y":2.68},{"g":"COL5A2","s":"b","x":4.89,"y":1.93},{"g":"COL5A2","s":"b","x":0.1,"y":2.6},{"g":"COL5A2","s":"b","x":0.2,"y":2.75},{"g":"COL5A2","s":"b","x":0.3,"y":2.8},{"g":"COL5A2","s":"b","x":0.6,"y":2.9},{"g":"COL5A2","s":"b","x":0.8,"y":2.7},{"g":"COL5A2","s":"b","x":1.0,"y":2.6},{"g":"COL5A2","s":"b","x":1.2,"y":2.8},{"g":"COL5A2","s":"b","x":1.4,"y":2.9},{"g":"COL5A2","s":"b","x":1.6,"y":2.85},{"g":"COL5A2","s":"b","x":1.9,"y":2.7},{"g":"COL5A2","s":"b","x":2.0,"y":2.9},{"g":"COL5A2","s":"b","x":0.05,"y":2.3},{"g":"COL5A2","s":"b","x":0.2,"y":2.2},{"g":"COL5A2","s":"b","x":0.4,"y":2.0},{"g":"COL5A2","s":"b","x":0.5,"y":2.1},{"g":"COL5A2","s":"b","x":0.7,"y":2.1},{"g":"COL5A2","s":"b","x":0.9,"y":2.2},{"g":"COL5A2","s":"b","x":1.1,"y":2.05},{"g":"COL5A2","s":"b","x":1.3,"y":2.3},{"g":"COL5A2","s":"b","x":1.5,"y":2.0},{"g":"COL5A2","s":"b","x":1.9,"y":2.2},{"g":"COL5A2","s":"b","x":2.1,"y":1.98},{"g":"COL5A2","s":"b","x":3.08,"y":1.93},{"g":"COL5A2","s":"b","x":2.46,"y":1.36},{"g":"COL5A2","s":"b","x":2.86,"y":1.27},{"g":"COL5A2","s":"b","x":3.6,"y":1.1},{"g":"COL5A2","s":"b","x":0.3,"y":1.8},{"g":"COL5A2","s":"b","x":0.5,"y":1.5},{"g":"COL5A2","s":"b","x":0.7,"y":1.2},{"g":"COL5A2","s":"b","x":1.0,"y":1.6},{"g":"COL5A2","s":"b","x":1.4,"y":1.5},{"g":"COL5A2","s":"b","x":1.7,"y":1.3},{"g":"COL5A2","s":"b","x":1.9,"y":0.88},{"g":"COL5A2","s":"b","x":2.66,"y":0.77},{"g":"COL5A2","s":"b","x":1.71,"y":0.48},{"g":"COL5A2","s":"b","x":3.6,"y":0.88},{"g":"COL5A2","s":"b","x":3.08,"y":0.26},{"g":"COL5A2","s":"b","x":3.89,"y":0.11},{"g":"COL5A2","s":"b","x":2.4,"y":-0.07},{"g":"COL5A2","s":"b","x":2.06,"y":-0.55},{"g":"COL5A2","s":"b","x":2.51,"y":-0.88},{"g":"COL5A2","s":"b","x":0.3,"y":0.85},{"g":"COL5A2","s":"b","x":0.5,"y":0.6},{"g":"COL5A2","s":"b","x":0.8,"y":0.9},{"g":"COL5A2","s":"b","x":1.0,"y":0.5},{"g":"COL5A2","s":"b","x":0.4,"y":-1.0},{"g":"COL5A2","s":"b","x":1.3,"y":-1.0},{"g":"COL5A2","s":"b","x":0.15,"y":2.5},{"g":"COL5A2","s":"b","x":0.25,"y":2.4},{"g":"COL5A2","s":"b","x":0.35,"y":3.3},
  {"g":"COL5A2","s":"r","x":1.06,"y":5.6},{"g":"COL5A2","s":"r","x":0.23,"y":4.88},{"g":"COL5A2","s":"r","x":0.37,"y":4.33},{"g":"COL5A2","s":"r","x":0.49,"y":4.22},{"g":"COL5A2","s":"r","x":0.66,"y":4.18},{"g":"COL5A2","s":"r","x":0.14,"y":4.0},{"g":"COL5A2","s":"r","x":0.43,"y":3.96},{"g":"COL5A2","s":"r","x":0.57,"y":3.85},{"g":"COL5A2","s":"r","x":0.71,"y":4.0},{"g":"COL5A2","s":"r","x":1.29,"y":4.0},{"g":"COL5A2","s":"r","x":1.43,"y":3.85},{"g":"COL5A2","s":"r","x":1.66,"y":3.69},{"g":"COL5A2","s":"r","x":1.06,"y":3.63},{"g":"COL5A2","s":"r","x":1.23,"y":3.47},{"g":"COL5A2","s":"r","x":2.34,"y":4.13},{"g":"COL5A2","s":"r","x":2.57,"y":4.26},{"g":"COL5A2","s":"r","x":3.63,"y":3.63},{"g":"COL5A2","s":"r","x":0.29,"y":3.34},{"g":"COL5A2","s":"r","x":0.2,"y":3.25},{"g":"COL5A2","s":"r","x":0.49,"y":3.12},{"g":"COL5A2","s":"r","x":0.71,"y":3.03},{"g":"COL5A2","s":"r","x":1.06,"y":2.97},{"g":"COL5A2","s":"r","x":2.06,"y":3.25},{"g":"COL5A2","s":"r","x":2.57,"y":2.97},{"g":"COL5A2","s":"r","x":0.06,"y":2.68},{"g":"COL5A2","s":"r","x":0.37,"y":2.59},{"g":"COL5A2","s":"r","x":0.57,"y":2.42},{"g":"COL5A2","s":"r","x":0.77,"y":2.53},{"g":"COL5A2","s":"r","x":1.0,"y":2.64},{"g":"COL5A2","s":"r","x":1.29,"y":2.68},{"g":"COL5A2","s":"r","x":1.43,"y":2.53},{"g":"COL5A2","s":"r","x":0.09,"y":2.37},{"g":"COL5A2","s":"r","x":0.29,"y":2.46},{"g":"COL5A2","s":"r","x":0.86,"y":2.42},{"g":"COL5A2","s":"r","x":1.51,"y":2.24},{"g":"COL5A2","s":"r","x":0.86,"y":1.98},{"g":"COL5A2","s":"r","x":1.0,"y":1.8},{"g":"COL5A2","s":"r","x":4.0,"y":2.59},{"g":"COL5A2","s":"r","x":4.06,"y":2.31},{"g":"COL5A2","s":"r","x":4.37,"y":2.02},{"g":"COL5A2","s":"r","x":0.66,"y":1.36},{"g":"COL5A2","s":"r","x":1.0,"y":1.49},{"g":"COL5A2","s":"r","x":1.23,"y":1.32},{"g":"COL5A2","s":"r","x":1.66,"y":0.77},{"g":"COL5A2","s":"r","x":2.57,"y":0.99},{"g":"COL5A2","s":"r","x":0.63,"y":-0.88}
 ]
},
"vconcat": [
 {
  "title": {"text": "A", "anchor": "start", "frame": "bounds", "fontSize": 18, "fontWeight": "bold", "dx": -68, "dy": 47, "offset": 0},
  "spacing": 2,
  "bounds": "flush",
  "resolve": {"scale": {"color": "independent"}},
  "hconcat": [
   {
    "width": 418, "height": 201,
    "data": {"name": "cells"},
    "transform": [
     {"lookup": "i", "from": {"data": {"name": "taxa"}, "key": "i", "fields": ["taxon"]}},
     {"lookup": "j", "from": {"data": {"name": "paths"}, "key": "j", "fields": ["pathway"]}}
    ],
    "view": {"stroke": "#c6c6c6"},
    "mark": {"type": "rect", "stroke": "#cfcfcf", "strokeWidth": 0.7},
    "encoding": {
     "x": {"field": "taxon", "type": "nominal", "sort": {"field": "i", "op": "min"}, "scale": {"paddingInner": 0, "paddingOuter": 0},
           "axis": {"orient": "top", "labelAngle": -45, "labelAlign": "left", "labelBaseline": "middle", "labelFontSize": 9.5, "labelColor": "#111", "labelPadding": 5, "labelOverlap": false, "labelLimit": 300, "ticks": false, "domain": false, "grid": true, "tickBand": "extent", "gridColor": "#d2d2d2", "gridWidth": 0.8, "title": null}},
     "y": {"field": "pathway", "type": "nominal", "sort": {"field": "j", "op": "min"}, "scale": {"paddingInner": 0, "paddingOuter": 0},
           "axis": {"labels": false, "ticks": false, "domain": false, "grid": true, "tickBand": "extent", "gridColor": "#d2d2d2", "gridWidth": 0.8, "title": null}},
     "color": {"field": "c", "type": "nominal", "scale": {"domain": ["B", "Y", "R"], "range": ["#1070b6", "#dfa72f", "#bf5266"]}, "legend": null}
    }
   },
   {
    "width": 50, "height": 201,
    "data": {"name": "dots"},
    "transform": [
     {"lookup": "j", "from": {"data": {"name": "paths"}, "key": "j", "fields": ["pathway"]}}
    ],
    "view": {"stroke": "#c6c6c6"},
    "mark": {"type": "circle", "stroke": "#3a3a3a", "strokeWidth": 0.5, "opacity": 1},
    "encoding": {
     "x": {"field": "k", "type": "ordinal", "scale": {"type": "point", "padding": 0.6}, "axis": null},
     "y": {"field": "pathway", "type": "nominal", "sort": {"field": "j", "op": "min"}, "scale": {"type": "band", "paddingInner": 0, "paddingOuter": 0},
           "axis": {"orient": "right", "ticks": false, "domain": false, "labelFontSize": 7.6, "labelPadding": 7, "labelLimit": 400, "labelColor": "#111", "title": null}},
     "size": {"field": "v", "type": "quantitative", "scale": {"domain": [0, 64], "range": [0, 50]}, "legend": null},
     "color": {"field": "grp", "type": "nominal", "scale": {"domain": ["ECM", "other", "immune"], "range": ["#ecb94e", "#c95a6e", "#6b95d4"]}, "legend": null}
    }
   }
  ]
 },
 {
  "title": {"text": "B", "anchor": "start", "frame": "bounds", "fontSize": 18, "fontWeight": "bold", "dx": -33, "dy": 12, "offset": 0},
  "vconcat": [
   {
    "title": {"text": "Erysipelotrichaceae UCG 003", "subtitle": "(clr abundance)", "orient": "bottom", "anchor": "middle", "frame": "bounds", "dx": 10, "fontStyle": "italic", "fontSize": 9.5, "fontWeight": "normal", "subtitleFontSize": 9.5, "subtitleColor": "#111", "subtitlePadding": 2, "offset": 1},
    "columns": 4,
    "align": "none",
    "spacing": 6,
    "concat": [
     {"spacing": 4, "hconcat": [
      {"width": 64, "height": 110, "title": "r =-0.17", "view": {"stroke": "#999", "strokeWidth": 1.2},
       "encoding": {"x": {"field": "x", "type": "quantitative", "scale": {"domain": [-0.25, 5.2], "nice": false, "zero": false}, "axis": {"values": [0,1,2,3,4,5], "title": null}},
                    "y": {"field": "y", "type": "quantitative", "scale": {"domain": [-1.95, 5.3], "nice": false, "zero": false}, "axis": {"values": [0,2,4], "title": ["COL18A1", "(clr expression)"]}}},
       "layer": [
        {"data": {"name": "bands"}, "transform": [{"filter": "datum.g=='COL18A1'&&datum.s=='b'"}], "mark": {"type": "area", "fill": "#7a9ee6", "opacity": 0.55}, "encoding": {"y2": {"field": "y2"}}},
        {"data": {"name": "fits"}, "transform": [{"filter": "datum.g=='COL18A1'&&datum.s=='b'"}], "mark": {"type": "line", "stroke": "#1b77c6", "strokeWidth": 1.6}, "encoding": {}},
        {"data": {"name": "pts"}, "transform": [{"filter": "datum.g=='COL18A1'&&datum.s=='b'"}], "mark": {"type": "circle", "size": 13, "fill": "#1f67a6", "stroke": "#111", "strokeWidth": 0.6, "opacity": 1}}
       ]},
      {"width": 62, "height": 110, "title": "r =-0.15", "view": {"stroke": "#999", "strokeWidth": 1.2},
       "encoding": {"x": {"field": "x", "type": "quantitative", "scale": {"domain": [-0.25, 5.2], "nice": false, "zero": false}, "axis": {"values": [0,1,2,3,4,5], "title": null}},
                    "y": {"field": "y", "type": "quantitative", "scale": {"domain": [-1.95, 5.3], "nice": false, "zero": false}, "axis": null}},
       "layer": [
        {"data": {"name": "bands"}, "transform": [{"filter": "datum.g=='COL18A1'&&datum.s=='r'"}], "mark": {"type": "area", "fill": "#e29aa6", "opacity": 0.6}, "encoding": {"y2": {"field": "y2"}}},
        {"data": {"name": "fits"}, "transform": [{"filter": "datum.g=='COL18A1'&&datum.s=='r'"}], "mark": {"type": "line", "stroke": "#c24a63", "strokeWidth": 1.6}, "encoding": {}},
        {"data": {"name": "pts"}, "transform": [{"filter": "datum.g=='COL18A1'&&datum.s=='r'"}], "mark": {"type": "circle", "size": 13, "fill": "#b24660", "stroke": "#111", "strokeWidth": 0.6, "opacity": 1}}
       ]}
     ]},
     {"spacing": 4, "hconcat": [
      {"width": 64, "height": 110, "title": "r =-0.16", "view": {"stroke": "#999", "strokeWidth": 1.2},
       "encoding": {"x": {"field": "x", "type": "quantitative", "scale": {"domain": [-0.25, 5.2], "nice": false, "zero": false}, "axis": {"values": [0,1,2,3,4,5], "title": null}},
                    "y": {"field": "y", "type": "quantitative", "scale": {"domain": [-1.27, 7.62], "nice": false, "zero": false}, "axis": {"values": [0,2,4,6], "title": ["COL1A2", "(clr expression)"]}}},
       "layer": [
        {"data": {"name": "bands"}, "transform": [{"filter": "datum.g=='COL1A2'&&datum.s=='b'"}], "mark": {"type": "area", "fill": "#7a9ee6", "opacity": 0.55}, "encoding": {"y2": {"field": "y2"}}},
        {"data": {"name": "fits"}, "transform": [{"filter": "datum.g=='COL1A2'&&datum.s=='b'"}], "mark": {"type": "line", "stroke": "#1b77c6", "strokeWidth": 1.6}, "encoding": {}},
        {"data": {"name": "pts"}, "transform": [{"filter": "datum.g=='COL1A2'&&datum.s=='b'"}], "mark": {"type": "circle", "size": 13, "fill": "#1f67a6", "stroke": "#111", "strokeWidth": 0.6, "opacity": 1}}
       ]},
      {"width": 62, "height": 110, "title": "r =-0.12", "view": {"stroke": "#999", "strokeWidth": 1.2},
       "encoding": {"x": {"field": "x", "type": "quantitative", "scale": {"domain": [-0.25, 5.2], "nice": false, "zero": false}, "axis": {"values": [0,1,2,3,4,5], "title": null}},
                    "y": {"field": "y", "type": "quantitative", "scale": {"domain": [-1.27, 7.62], "nice": false, "zero": false}, "axis": null}},
       "layer": [
        {"data": {"name": "bands"}, "transform": [{"filter": "datum.g=='COL1A2'&&datum.s=='r'"}], "mark": {"type": "area", "fill": "#e29aa6", "opacity": 0.6}, "encoding": {"y2": {"field": "y2"}}},
        {"data": {"name": "fits"}, "transform": [{"filter": "datum.g=='COL1A2'&&datum.s=='r'"}], "mark": {"type": "line", "stroke": "#c24a63", "strokeWidth": 1.6}, "encoding": {}},
        {"data": {"name": "pts"}, "transform": [{"filter": "datum.g=='COL1A2'&&datum.s=='r'"}], "mark": {"type": "circle", "size": 13, "fill": "#b24660", "stroke": "#111", "strokeWidth": 0.6, "opacity": 1}}
       ]}
     ]},
     {"spacing": 4, "hconcat": [
      {"width": 57, "height": 110, "title": "r =-0.20", "view": {"stroke": "#999", "strokeWidth": 1.2},
       "encoding": {"x": {"field": "x", "type": "quantitative", "scale": {"domain": [-0.25, 5.2], "nice": false, "zero": false}, "axis": {"values": [0,1,2,3,4,5], "title": null}},
                    "y": {"field": "y", "type": "quantitative", "scale": {"domain": [-2.65, 6.95], "nice": false, "zero": false}, "axis": {"values": [-2.5,0,2.5,5], "format": ".1f", "labelExpr": "replace(datum.label, '\u2212', '-')", "title": ["COL4A1", "(clr expression)"]}}},
       "layer": [
        {"data": {"name": "bands"}, "transform": [{"filter": "datum.g=='COL4A1'&&datum.s=='b'"}], "mark": {"type": "area", "fill": "#7a9ee6", "opacity": 0.55}, "encoding": {"y2": {"field": "y2"}}},
        {"data": {"name": "fits"}, "transform": [{"filter": "datum.g=='COL4A1'&&datum.s=='b'"}], "mark": {"type": "line", "stroke": "#1b77c6", "strokeWidth": 1.6}, "encoding": {}},
        {"data": {"name": "pts"}, "transform": [{"filter": "datum.g=='COL4A1'&&datum.s=='b'"}], "mark": {"type": "circle", "size": 13, "fill": "#1f67a6", "stroke": "#111", "strokeWidth": 0.6, "opacity": 1}}
       ]},
      {"width": 57, "height": 110, "title": "r =-0.16", "view": {"stroke": "#999", "strokeWidth": 1.2},
       "encoding": {"x": {"field": "x", "type": "quantitative", "scale": {"domain": [-0.25, 5.2], "nice": false, "zero": false}, "axis": {"values": [0,1,2,3,4,5], "title": null}},
                    "y": {"field": "y", "type": "quantitative", "scale": {"domain": [-2.65, 6.95], "nice": false, "zero": false}, "axis": null}},
       "layer": [
        {"data": {"name": "bands"}, "transform": [{"filter": "datum.g=='COL4A1'&&datum.s=='r'"}], "mark": {"type": "area", "fill": "#e29aa6", "opacity": 0.6}, "encoding": {"y2": {"field": "y2"}}},
        {"data": {"name": "fits"}, "transform": [{"filter": "datum.g=='COL4A1'&&datum.s=='r'"}], "mark": {"type": "line", "stroke": "#c24a63", "strokeWidth": 1.6}, "encoding": {}},
        {"data": {"name": "pts"}, "transform": [{"filter": "datum.g=='COL4A1'&&datum.s=='r'"}], "mark": {"type": "circle", "size": 13, "fill": "#b24660", "stroke": "#111", "strokeWidth": 0.6, "opacity": 1}}
       ]}
     ]},
     {"spacing": 4, "hconcat": [
      {"width": 60, "height": 110, "title": "r =-0.19", "view": {"stroke": "#999", "strokeWidth": 1.2},
       "encoding": {"x": {"field": "x", "type": "quantitative", "scale": {"domain": [-0.25, 5.2], "nice": false, "zero": false}, "axis": {"values": [0,1,2,3,4,5], "title": null}},
                    "y": {"field": "y", "type": "quantitative", "scale": {"domain": [-1.4, 5.9], "nice": false, "zero": false}, "axis": {"values": [0,2,4], "title": ["COL5A2", "(clr expression)"]}}},
       "layer": [
        {"data": {"name": "bands"}, "transform": [{"filter": "datum.g=='COL5A2'&&datum.s=='b'"}], "mark": {"type": "area", "fill": "#7a9ee6", "opacity": 0.55}, "encoding": {"y2": {"field": "y2"}}},
        {"data": {"name": "fits"}, "transform": [{"filter": "datum.g=='COL5A2'&&datum.s=='b'"}], "mark": {"type": "line", "stroke": "#1b77c6", "strokeWidth": 1.6}, "encoding": {}},
        {"data": {"name": "pts"}, "transform": [{"filter": "datum.g=='COL5A2'&&datum.s=='b'"}], "mark": {"type": "circle", "size": 13, "fill": "#1f67a6", "stroke": "#111", "strokeWidth": 0.6, "opacity": 1}}
       ]},
      {"width": 62, "height": 110, "title": "r =-0.13", "view": {"stroke": "#999", "strokeWidth": 1.2},
       "encoding": {"x": {"field": "x", "type": "quantitative", "scale": {"domain": [-0.25, 5.2], "nice": false, "zero": false}, "axis": {"values": [0,1,2,3,4,5], "title": null}},
                    "y": {"field": "y", "type": "quantitative", "scale": {"domain": [-1.4, 5.9], "nice": false, "zero": false}, "axis": null}},
       "layer": [
        {"data": {"name": "bands"}, "transform": [{"filter": "datum.g=='COL5A2'&&datum.s=='r'"}], "mark": {"type": "area", "fill": "#e29aa6", "opacity": 0.6}, "encoding": {"y2": {"field": "y2"}}},
        {"data": {"name": "fits"}, "transform": [{"filter": "datum.g=='COL5A2'&&datum.s=='r'"}], "mark": {"type": "line", "stroke": "#c24a63", "strokeWidth": 1.6}, "encoding": {}},
        {"data": {"name": "pts"}, "transform": [{"filter": "datum.g=='COL5A2'&&datum.s=='r'"}], "mark": {"type": "circle", "size": 13, "fill": "#b24660", "stroke": "#111", "strokeWidth": 0.6, "opacity": 1}}
       ]}
     ]}
    ]
   }
  ]
 }
]
}
